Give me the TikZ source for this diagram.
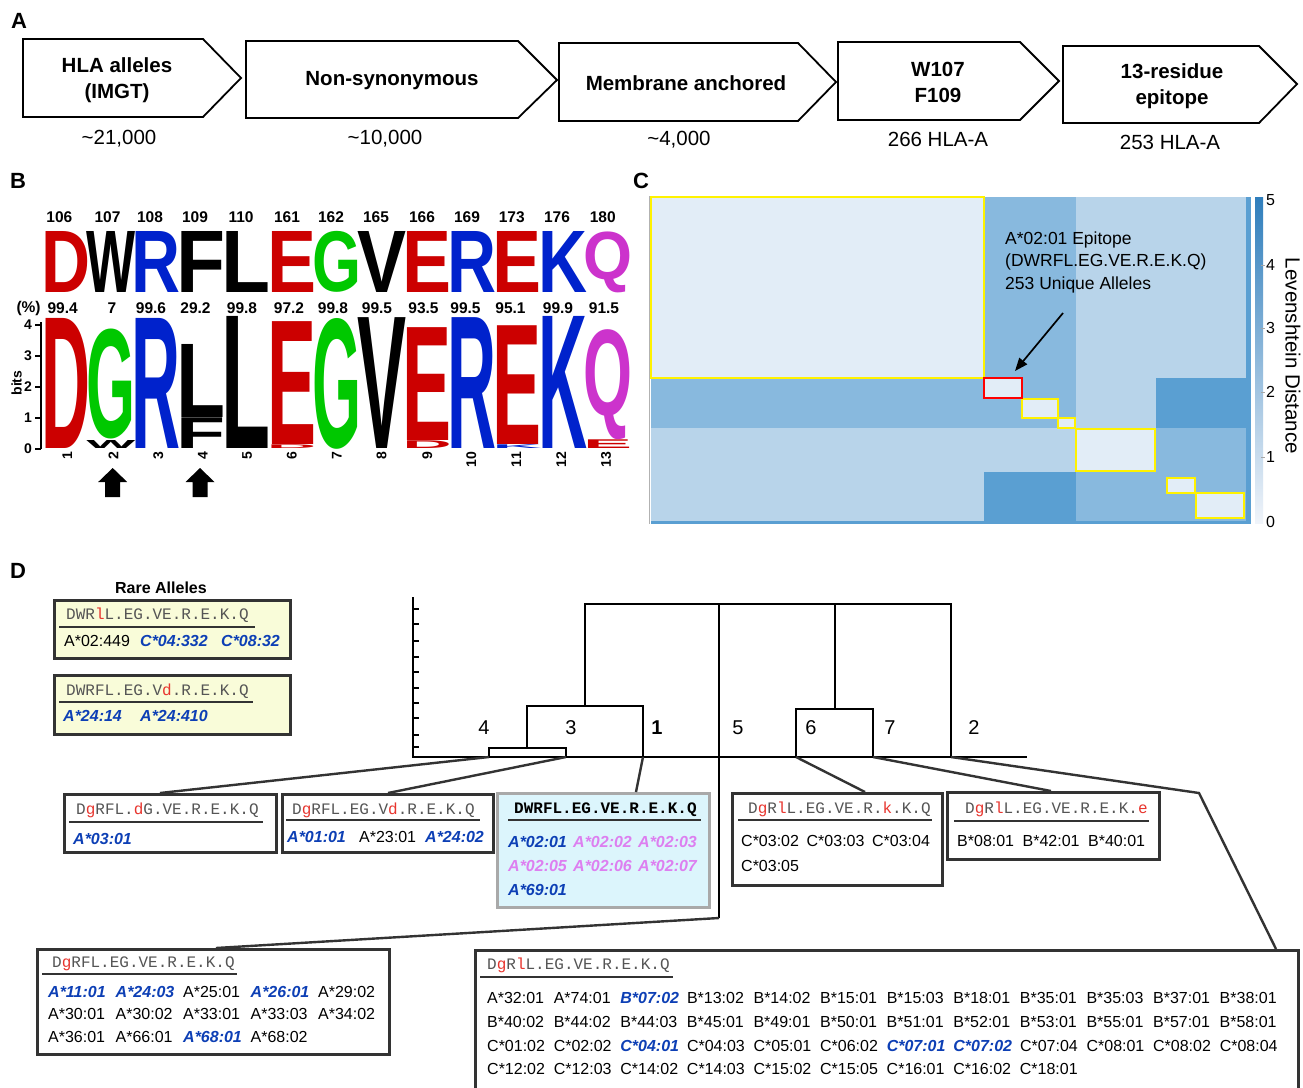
\documentclass[tikz,border=0pt]{standalone}
\usepackage{fontspec}
\setmainfont{Liberation Sans}
\setmonofont{Liberation Mono}
\usepackage{graphicx}
\usetikzlibrary{arrows.meta}

% logo colours
\definecolor{logored}{HTML}{CC0000}
\definecolor{logoblue}{HTML}{0022CC}
\definecolor{logogreen}{HTML}{00C800}
\definecolor{logopink}{HTML}{CC33CC}
% heatmap colours
\definecolor{hmlight}{HTML}{E2EDF7}
\definecolor{hmpale}{HTML}{B8D4EA}
\definecolor{hmmid}{HTML}{88B9DE}
\definecolor{hmdark}{HTML}{5A9FD2}
\definecolor{cbarlow}{HTML}{F0F4FA}
\definecolor{cbarhigh}{HTML}{2F7EBC}
% allele boxes
\definecolor{allelblue}{HTML}{0D3FB5}
\definecolor{allelpink}{HTML}{DD7FF0}
\definecolor{mutred}{HTML}{E8352E}
\definecolor{seqgray}{HTML}{555555}
\definecolor{framegray}{HTML}{333333}
\definecolor{rarefill}{HTML}{F9FCD9}
\definecolor{wtfill}{HTML}{DCF5FC}
\definecolor{wtframe}{HTML}{A9A9A9}

\newcommand{\mut}[1]{\textcolor{mutred}{#1}}
\newcommand{\hit}[1]{\textcolor{allelblue}{\bfseries\itshape #1}}
\newcommand{\kin}[1]{\textcolor{allelpink}{\bfseries\itshape #1}}
\newcommand{\acol}[2]{\makebox[#1pt][l]{#2}}

% one stacked letter of the logo: left x, base y, height, colour, letter
\newcommand{\logochar}[5]{%
  \node[inner sep=0pt, anchor=south west, text=#4] at ({#1-2},#2) {\resizebox*{49pt}{#3pt}{\bfseries #5}};}

% block arrow under the logo
\newcommand{\blockarrow}[1]{%
  \fill ({#1},468) -- ({#1+14.5},482) -- ({#1+7.5},482) -- ({#1+7.5},497) -- ({#1-7.5},497) -- ({#1-7.5},482) -- ({#1-14.5},482) -- cycle;}

\tikzset{
  panel/.style={inner sep=0pt, font=\bfseries\fontsize{22}{26}\selectfont},
  stage/.style={draw=black, line width=1.8pt, line join=miter},
  stagetext/.style={inner sep=0pt, align=center, font=\bfseries\fontsize{20.5}{26}\selectfont},
  tally/.style={inner sep=0pt, font=\fontsize{20.5}{24}\selectfont},
  posnum/.style={inner sep=0pt, font=\bfseries\fontsize{15.5}{18}\selectfont},
  ticklab/.style={inner sep=0pt, font=\bfseries\fontsize{14}{16}\selectfont},
  logoaxis/.style={line width=1.4pt},
  cluster/.style={draw=yellow, line width=2.6pt},
  hmnote/.style={inner sep=0pt, align=left, anchor=west, font=\fontsize{17.5}{22.5}\selectfont},
  cbarlab/.style={inner sep=0pt, anchor=west, font=\fontsize{16}{18}\selectfont},
  tree/.style={line width=2.6pt, line join=miter},
  leaflab/.style={inner sep=0pt, font=\fontsize{20}{24}\selectfont},
  link/.style={draw=framegray, line width=2.4pt},
  allelebox/.style={draw=framegray, line width=2.6pt, fill=white, anchor=north west, inner sep=0pt},
  seq/.style={inner sep=0pt, anchor=west, text depth=0pt, text=seqgray, font=\ttfamily\fontsize{16}{19}\selectfont},
  allele/.style={inner sep=0pt, anchor=west, text depth=0pt, font=\fontsize{16}{19}\selectfont},
  seqrule/.style={draw=framegray, line width=2.8pt},
}

\begin{document}
\begin{tikzpicture}[x=1pt, y=-1pt]

\fill[white] (0,0) rectangle (1303,1087);
\useasboundingbox (0,0) rectangle (1303,1087);

% ---------------- A: filtering steps

\node[panel] (A) at (19,21) {A};

\draw[stage] (23,39) -- (203,39) -- (241,78) -- (203,117) -- (23,117) -- cycle;
\draw[stage] (246,41) -- (518,41) -- (557,80) -- (518,118) -- (246,118) -- cycle;
\draw[stage] (559,43) -- (798,43) -- (836,82) -- (798,121) -- (559,121) -- cycle;
\draw[stage] (838,42) -- (1020,42) -- (1059,81) -- (1020,120) -- (838,120) -- cycle;
\draw[stage] (1063,46) -- (1259,46) -- (1297,84) -- (1259,123) -- (1063,123) -- cycle;

\node[stagetext] (imgt) at (117,80) {HLA alleles\\(IMGT)};
\node[stagetext] (nonsyn) at (392,81) {Non-synonymous};
\node[stagetext] (membr) at (686,83) {Membrane anchored};
\node[stagetext] (wf) at (938,82) {W107\\F109};
\node[stagetext] (epi) at (1172,86) {13-residue\\epitope};

\node[tally] (n1) at (119,139) {\textasciitilde21,000};
\node[tally] (n2) at (385,139) {\textasciitilde10,000};
\node[tally] (n3) at (679,140) {\textasciitilde4,000};
\node[tally] (n4) at (938,139) {266 HLA-A};
\node[tally] (n5) at (1170,142) {253 HLA-A};

% ---------------- B: sequence logo

\node[panel] (B) at (18,181) {B};

% residue numbers
\node[posnum] (p106) at (59.4,217) {106};
\node[posnum] (p107) at (107.5,217) {107};
\node[posnum] (p108) at (150,217) {108};
\node[posnum] (p109) at (195,217) {109};
\node[posnum] (p110) at (241,217) {110};
\node[posnum] (p161) at (287,217) {161};
\node[posnum] (p162) at (331,217) {162};
\node[posnum] (p165) at (376,217) {165};
\node[posnum] (p166) at (422,217) {166};
\node[posnum] (p169) at (467,217) {169};
\node[posnum] (p173) at (511.7,217) {173};
\node[posnum] (p176) at (557,217) {176};
\node[posnum] (p180) at (602.7,217) {180};

% consensus row
\logochar{43}{293}{61}{logored}{D}
\logochar{88.2}{293}{61}{black}{W}
\logochar{133.3}{293}{61}{logoblue}{R}
\logochar{178.5}{293}{61}{black}{F}
\logochar{223.7}{293}{61}{black}{L}
\logochar{268.9}{293}{61}{logored}{E}
\logochar{314}{293}{61}{logogreen}{G}
\logochar{359.2}{293}{61}{black}{V}
\logochar{404.4}{293}{61}{logored}{E}
\logochar{449.5}{293}{61}{logoblue}{R}
\logochar{494.7}{293}{61}{logored}{E}
\logochar{539.9}{293}{61}{logoblue}{K}
\logochar{585}{293}{61}{logopink}{Q}

% conservation
\node[posnum] (pc) at (28.6,308) {(\%)};
\node[posnum] (c1) at (62.7,308) {99.4};
\node[posnum] (c2) at (112,308) {7};
\node[posnum] (c3) at (151,308) {99.6};
\node[posnum] (c4) at (195.5,308) {29.2};
\node[posnum] (c5) at (242,308) {99.8};
\node[posnum] (c6) at (289,308) {97.2};
\node[posnum] (c7) at (333,308) {99.8};
\node[posnum] (c8) at (377,308) {99.5};
\node[posnum] (c9) at (423.5,308) {93.5};
\node[posnum] (c10) at (465.5,308) {99.5};
\node[posnum] (c11) at (510.5,308) {95.1};
\node[posnum] (c12) at (558,308) {99.9};
\node[posnum] (c13) at (604,308) {91.5};

% bits axis
\draw[logoaxis] (41,322) -- (41,449);
\draw[logoaxis] (35,449) -- (41,449);
\draw[logoaxis] (35,418) -- (41,418);
\draw[logoaxis] (35,387) -- (41,387);
\draw[logoaxis] (35,356) -- (41,356);
\draw[logoaxis] (35,325) -- (41,325);
\node[ticklab] (t0) at (28,449) {0};
\node[ticklab] (t1) at (28,418) {1};
\node[ticklab] (t2) at (28,387) {2};
\node[ticklab] (t3) at (28,356) {3};
\node[ticklab] (t4) at (28,325) {4};
\node[ticklab, rotate=90] (bits) at (16.5,383) {bits};

% stacked letters
\logochar{43}{449}{130}{logored}{D}
\logochar{88.2}{449}{8}{black}{W}
\logochar{88.2}{439.7}{110}{logogreen}{G}
\logochar{133.3}{449}{130}{logoblue}{R}
\logochar{178.5}{449}{30.7}{black}{F}
\logochar{178.5}{417.4}{73}{black}{L}
\logochar{223.7}{449}{132}{black}{L}
\logochar{268.9}{449}{3.7}{logored}{D}
\logochar{268.9}{444.7}{122.8}{logored}{E}
\logochar{314}{449}{130.8}{logogreen}{G}
\logochar{359.2}{449}{130.8}{black}{V}
\logochar{404.4}{449}{7.75}{logored}{D}
\logochar{404.4}{440.6}{112.8}{logored}{E}
\logochar{449.5}{449}{130.8}{logoblue}{R}
\logochar{494.7}{449}{3.7}{logoblue}{K}
\logochar{494.7}{444.3}{118.7}{logored}{E}
\logochar{539.9}{449}{132}{logoblue}{K}
\logochar{585}{449}{8.7}{logored}{E}
\logochar{585}{439.7}{110}{logopink}{Q}

% position labels
\node[ticklab, rotate=90, anchor=east] (x1) at (67.3,452) {1};
\node[ticklab, rotate=90, anchor=east] (x2) at (113.5,452) {2};
\node[ticklab, rotate=90, anchor=east] (x3) at (158.4,452) {3};
\node[ticklab, rotate=90, anchor=east] (x4) at (202.9,452) {4};
\node[ticklab, rotate=90, anchor=east] (x5) at (247,452) {5};
\node[ticklab, rotate=90, anchor=east] (x6) at (291.8,452) {6};
\node[ticklab, rotate=90, anchor=east] (x7) at (336.7,452) {7};
\node[ticklab, rotate=90, anchor=east] (x8) at (381.6,452) {8};
\node[ticklab, rotate=90, anchor=east] (x9) at (427.3,452) {9};
\node[ticklab, rotate=90, anchor=east] (x10) at (471.4,452) {10};
\node[ticklab, rotate=90, anchor=east] (x11) at (516.3,452) {11};
\node[ticklab, rotate=90, anchor=east] (x12) at (561.2,452) {12};
\node[ticklab, rotate=90, anchor=east] (x13) at (606,452) {13};

\blockarrow{112.7}
\blockarrow{200}

% ---------------- C: Levenshtein heatmap

\node[panel] (C) at (641,181) {C};

\draw[gray!60, line width=0.8pt] (649,196) -- (649,524);

\fill[hmlight] (651,197) rectangle (984,378);
\fill[hmmid] (984,197) rectangle (1076,378);
\fill[hmpale] (1076,197) rectangle (1246,378);

\fill[hmmid] (651,378) rectangle (1076,428);
\fill[hmpale] (1076,378) rectangle (1156,428);
\fill[hmdark] (1156,378) rectangle (1246,428);

\fill[hmpale] (651,428) rectangle (1076,472);
\fill[hmlight] (1076,428) rectangle (1156,472);
\fill[hmmid] (1156,428) rectangle (1246,472);

\fill[hmpale] (651,472) rectangle (984,521);
\fill[hmdark] (984,472) rectangle (1076,521);
\fill[hmmid] (1076,472) rectangle (1246,521);

\fill[hmlight] (984,378) rectangle (1022,398);
\fill[hmlight] (1022,399) rectangle (1058,418);
\fill[hmlight] (1058,418) rectangle (1075,428);
\fill[hmlight] (1167,478) rectangle (1195,493);
\fill[hmlight] (1196,493) rectangle (1244,518);

\fill[hmdark] (1246,197) rectangle (1251,524);
\fill[hmdark] (651,521) rectangle (1251,524);

% clusters
\draw[cluster] (651,197) rectangle (984,378);
\draw[cluster] (1022,399) rectangle (1058,418);
\draw[cluster] (1058,418) rectangle (1075,428);
\draw[cluster] (1076,429) rectangle (1155,471);
\draw[cluster] (1167,478) rectangle (1195,493);
\draw[cluster] (1196,493) rectangle (1244,518);
\draw[draw=red, line width=2.6pt] (984,378) rectangle (1022,398);

\node[hmnote] (note) at (1005,262) {A*02:01 Epitope\\(DWRFL.EG.VE.R.E.K.Q)\\253 Unique Alleles};
\coordinate (tail) at (1063,313);
\coordinate (tip) at (1015,371);
\draw[-{Triangle[length=13pt,width=10pt]}, line width=1.7pt] (tail) -- (tip);

% colour bar
\shade[bottom color=cbarlow, top color=cbarhigh] (1255,197) rectangle (1263,523);
\draw[gray!70, line width=0.6pt] (1261,265) -- (1265,265);
\draw[gray!70, line width=0.6pt] (1261,328) -- (1265,328);
\draw[gray!70, line width=0.6pt] (1261,392) -- (1265,392);
\draw[gray!70, line width=0.6pt] (1261,457) -- (1265,457);
\node[cbarlab] (l5) at (1266,200) {5};
\node[cbarlab] (l4) at (1266,265) {4};
\node[cbarlab] (l3) at (1266,328) {3};
\node[cbarlab] (l2) at (1266,392) {2};
\node[cbarlab] (l1) at (1266,457) {1};
\node[cbarlab] (l0) at (1266,522) {0};
\node[inner sep=0pt, rotate=-90, font=\fontsize{20.5}{24}\selectfont] (lev) at (1293,356) {Levenshtein Distance};

% ---------------- D: dendrogram and allele groups

\node[panel] (D) at (18,571) {D};

% axis
\draw[tree] (413,597) -- (413,757) -- (1027,757);
\draw[tree, line width=2pt] (413,609) -- (419,609);
\draw[tree, line width=2pt] (413,624) -- (419,624);
\draw[tree, line width=2pt] (413,641) -- (419,641);
\draw[tree, line width=2pt] (413,657) -- (419,657);
\draw[tree, line width=2pt] (413,672) -- (419,672);
\draw[tree, line width=2pt] (413,688) -- (419,688);
\draw[tree, line width=2pt] (413,703) -- (419,703);
\draw[tree, line width=2pt] (413,718) -- (419,718);
\draw[tree, line width=2pt] (413,735) -- (419,735);
\draw[tree, line width=2pt] (413,747) -- (419,747);

\coordinate (leaf4) at (489,757);
\coordinate (leaf3) at (566,757);
\coordinate (leaf1) at (643,757);
\coordinate (leaf5) at (719,757);
\coordinate (leaf6) at (796,757);
\coordinate (leaf7) at (873,757);
\coordinate (leaf2) at (951,757);
\coordinate (knee5) at (719,918);
\coordinate (knee2) at (1199,793);

\draw[tree] (leaf4) -- (489,748) -- (566,748) -- (leaf3);
\draw[tree] (527,748) -- (527,706) -- (643,706) -- (leaf1);
\draw[tree] (585,706) -- (585,604) -- (951,604) -- (leaf2);
\draw[tree] (719,604) -- (knee5);
\draw[tree] (835,604) -- (835,709);
\draw[tree] (leaf6) -- (796,709) -- (873,709) -- (leaf7);

\node[leaflab] (g4) at (484,728) {4};
\node[leaflab] (g3) at (571,728) {3};
\node[leaflab, font=\bfseries\fontsize{20}{24}\selectfont] (g1) at (657,728) {1};
\node[leaflab] (g5) at (738,728) {5};
\node[leaflab] (g6) at (811,728) {6};
\node[leaflab] (g7) at (890,728) {7};
\node[leaflab] (g2) at (974,728) {2};

% rare alleles
\node[inner sep=0pt, font=\bfseries\fontsize{16}{19}\selectfont] (rare) at (161,588) {Rare Alleles};

\node[allelebox, fill=rarefill, minimum width=236pt, minimum height=58pt] (r1) at (53,599) {};
\node[seq] (r1s) at (66,614) {DWR\mut{l}L.EG.VE.R.E.K.Q};
\draw[seqrule] (59,627) -- (255,627);
\node[allele] (r1a) at (64,641) {\acol{76}{A*02:449}\acol{81}{\hit{C*04:332}}\hit{C*08:32}};

\node[allelebox, fill=rarefill, minimum width=236pt, minimum height=59pt] (r2) at (53,674) {};
\node[seq] (r2s) at (66,690) {DWRFL.EG.V\mut{d}.R.E.K.Q};
\draw[seqrule] (59,702) -- (253,702);
\node[allele] (r2a) at (63,716) {\acol{77}{\hit{A*24:14}}\hit{A*24:410}};

% group boxes
\node[allelebox, minimum width=212pt, minimum height=58pt] (b4) at (63,793) {};
\node[seq] (b4s) at (76,809) {D\mut{g}RFL.\mut{d}G.VE.R.E.K.Q};
\draw[seqrule] (69,822) -- (263,822);
\node[allele] (b4a) at (73,839) {\hit{A*03:01}};

\node[allelebox, minimum width=211pt, minimum height=58pt] (b3) at (281,793) {};
\node[seq] (b3s) at (292,809) {D\mut{g}RFL.EG.V\mut{d}.R.E.K.Q};
\draw[seqrule] (286,820) -- (480,820);
\node[allele] (b3a) at (287,837) {\acol{72}{\hit{A*01:01}}\acol{66}{A*23:01}\hit{A*24:02}};

\node[allelebox, draw=wtframe, fill=wtfill, minimum width=212pt, minimum height=114pt] (b1) at (496,792) {};
\node[seq, text=black, font=\ttfamily\bfseries\fontsize{16}{19}\selectfont] (b1s) at (514,808) {DWRFL.EG.VE.R.E.K.Q};
\draw[seqrule] (508,820) -- (701,820);
\node[allele] (b1a) at (508,842) {\acol{65}{\hit{A*02:01}}\acol{65}{\kin{A*02:02}}\kin{A*02:03}};
\node[allele] (b1b) at (508,866) {\acol{65}{\kin{A*02:05}}\acol{65}{\kin{A*02:06}}\kin{A*02:07}};
\node[allele] (b1c) at (508,890) {\hit{A*69:01}};

\node[allelebox, minimum width=210pt, minimum height=92pt] (b6) at (731,792) {};
\node[seq] (b6s) at (748,808) {D\mut{g}R\mut{l}L.EG.VE.R.\mut{k}.K.Q};
\draw[seqrule] (738,820) -- (932,820);
\node[allele] (b6a) at (741,841) {\acol{65.5}{C*03:02}\acol{65.5}{C*03:03}C*03:04};
\node[allele] (b6b) at (741,866) {C*03:05};

\node[allelebox, minimum width=212pt, minimum height=67pt] (b7) at (946,791) {};
\node[seq] (b7s) at (965,808) {D\mut{g}R\mut{l}L.EG.VE.R.E.K.\mut{e}};
\draw[seqrule] (954,821) -- (1149,821);
\node[allele] (b7a) at (957,841) {\acol{65.5}{B*08:01}\acol{65.5}{B*42:01}B*40:01};

\node[allelebox, minimum width=352pt, minimum height=105pt] (b5) at (36,948) {};
\node[seq] (b5s) at (52,962) {D\mut{g}RFL.EG.VE.R.E.K.Q};
\draw[seqrule] (42,974) -- (237,974);
\node[allele] (b5a) at (48,992) {\acol{67.5}{\hit{A*11:01}}\acol{67.5}{\hit{A*24:03}}\acol{67.5}{A*25:01}\acol{67.5}{\hit{A*26:01}}A*29:02};
\node[allele] (b5b) at (48,1014) {\acol{67.5}{A*30:01}\acol{67.5}{A*30:02}\acol{67.5}{A*33:01}\acol{67.5}{A*33:03}A*34:02};
\node[allele] (b5c) at (48,1037) {\acol{67.5}{A*36:01}\acol{67.5}{A*66:01}\acol{67.5}{\hit{A*68:01}}A*68:02};

\node[allelebox, minimum width=823pt, minimum height=170pt] (b2) at (474,949) {};
\node[seq] (b2s) at (487,964) {D\mut{g}R\mut{l}L.EG.VE.R.E.K.Q};
\draw[seqrule] (480,977) -- (673,977);
\node[allele] (b2a) at (487,998) {\acol{66.6}{A*32:01}\acol{66.6}{A*74:01}\acol{66.6}{\hit{B*07:02}}\acol{66.6}{B*13:02}\acol{66.6}{B*14:02}\acol{66.6}{B*15:01}\acol{66.6}{B*15:03}\acol{66.6}{B*18:01}\acol{66.6}{B*35:01}\acol{66.6}{B*35:03}\acol{66.6}{B*37:01}B*38:01};
\node[allele] (b2b) at (487,1022) {\acol{66.6}{B*40:02}\acol{66.6}{B*44:02}\acol{66.6}{B*44:03}\acol{66.6}{B*45:01}\acol{66.6}{B*49:01}\acol{66.6}{B*50:01}\acol{66.6}{B*51:01}\acol{66.6}{B*52:01}\acol{66.6}{B*53:01}\acol{66.6}{B*55:01}\acol{66.6}{B*57:01}B*58:01};
\node[allele] (b2c) at (487,1046) {\acol{66.6}{C*01:02}\acol{66.6}{C*02:02}\acol{66.6}{\hit{C*04:01}}\acol{66.6}{C*04:03}\acol{66.6}{C*05:01}\acol{66.6}{C*06:02}\acol{66.6}{\hit{C*07:01}}\acol{66.6}{\hit{C*07:02}}\acol{66.6}{C*07:04}\acol{66.6}{C*08:01}\acol{66.6}{C*08:02}C*08:04};
\node[allele] (b2d) at (487,1069) {\acol{66.6}{C*12:02}\acol{66.6}{C*12:03}\acol{66.6}{C*14:02}\acol{66.6}{C*14:03}\acol{66.6}{C*15:02}\acol{66.6}{C*15:05}\acol{66.6}{C*16:01}\acol{66.6}{C*16:02}C*18:01};

% leaves to groups
\draw[link] (leaf4) -- ([xshift=97pt]b4.north west);
\draw[link] (leaf3) -- ([xshift=107pt]b3.north west);
\draw[link] (leaf1) -- ([xshift=140pt]b1.north west);
\draw[link] (knee5) -- ([xshift=180pt]b5.north west);
\draw[link] (leaf6) -- ([xshift=134pt]b6.north west);
\draw[link] (leaf7) -- ([xshift=105pt]b7.north west);
\draw[link] (leaf2) -- (knee2) -- ([xshift=802pt]b2.north west);

\end{tikzpicture}
\end{document}
